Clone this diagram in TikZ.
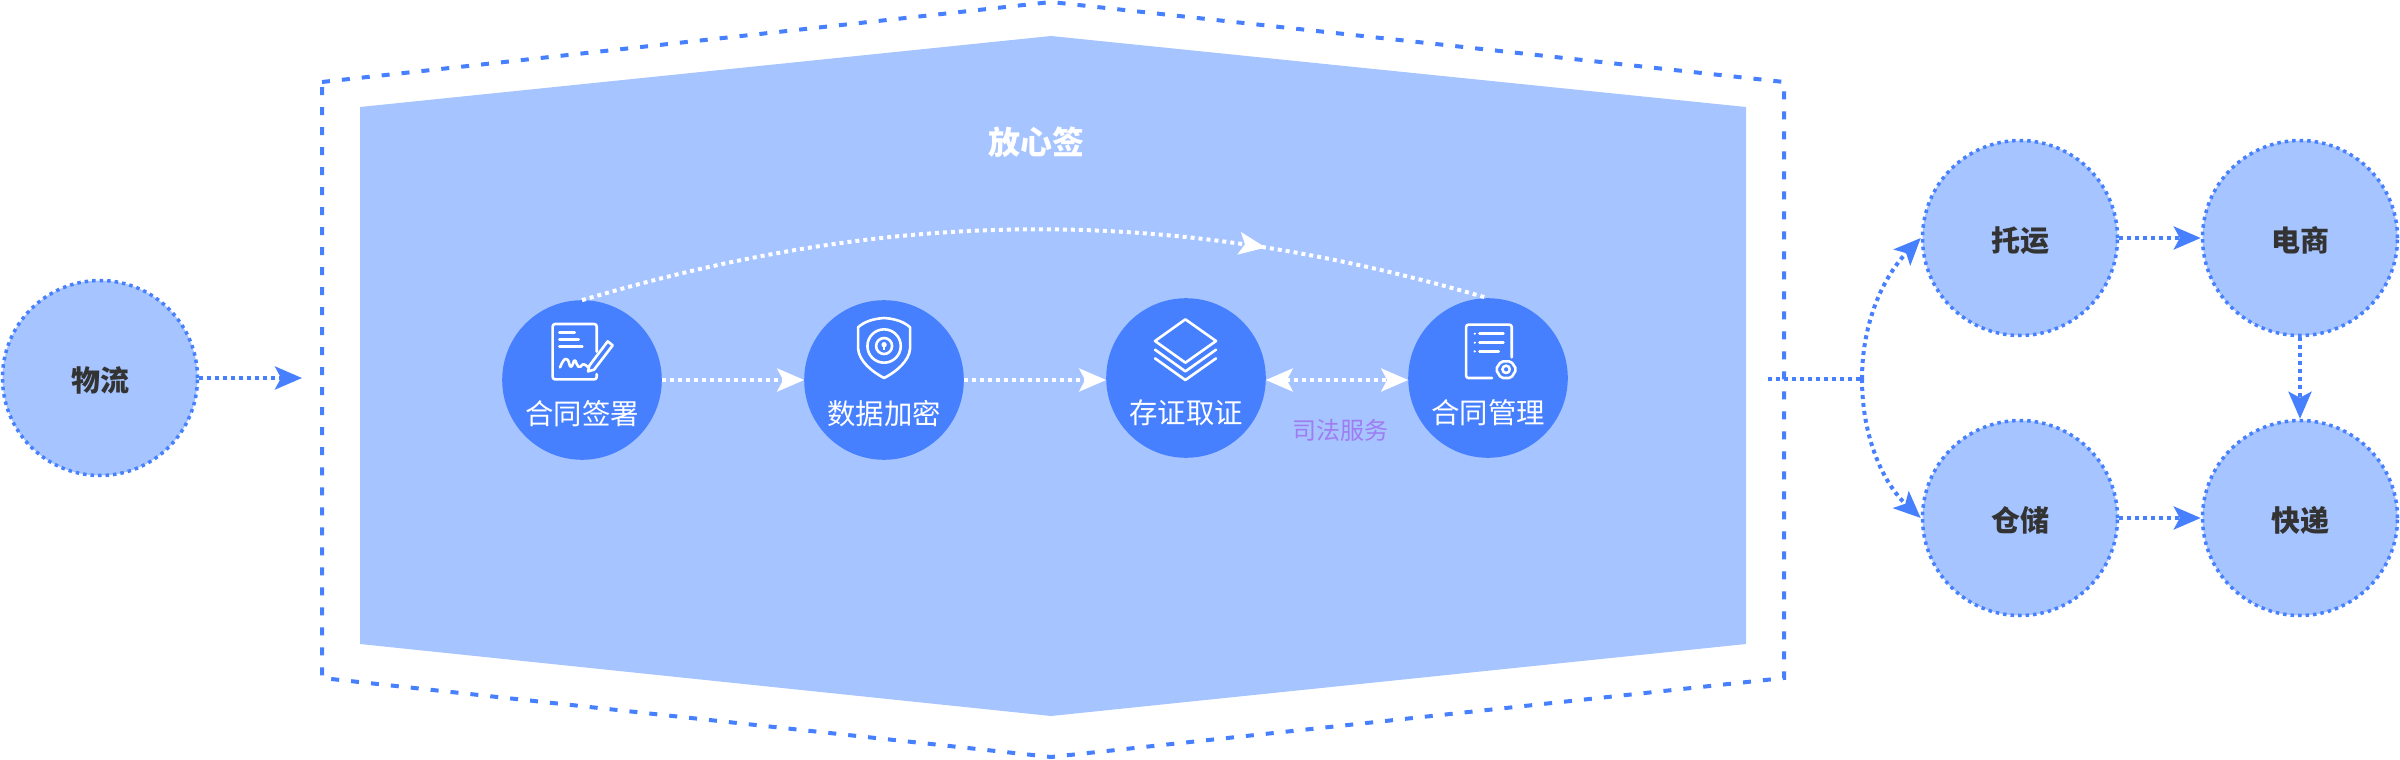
\documentclass[tikz,border=0pt]{standalone}
\usepackage{fontspec}
\setmainfont{Noto Sans CJK SC}
\usetikzlibrary{arrows.meta, decorations.markings}
\definecolor{lightblue}{HTML}{A6C4FF}
\definecolor{mainblue}{HTML}{4780FF}
\definecolor{inkgrey}{HTML}{333333}
\definecolor{lawpurple}{HTML}{A07CF2}
\tikzset{>={Stealth[length=13.5pt,width=11.5pt,inset=3pt]}}
\tikzset{
    dotline/.style={line width=2pt, dash pattern=on 2pt off 2pt},
    bluenode/.style={circle, minimum size=97.5pt, inner sep=0pt, fill=lightblue, draw=mainblue,
        line width=1.75pt, dash pattern=on 1.75pt off 2pt, text=inkgrey, text height=15pt, text depth=1.5pt,
        font=\fontsize{14.5}{14.5}\selectfont\bfseries},
    stepnode/.style={circle, minimum size=79.8pt, inner sep=0pt, outer sep=0pt, fill=mainblue},
    steplabel/.style={text=white, font=\fontsize{14.2}{14.2}\selectfont, inner sep=0pt},
    iconline/.style={white, line width=1.3pt, line cap=round, line join=round}
}

\begin{document}
\begin{tikzpicture}[x=0.5pt, y=-0.5pt]
    \useasboundingbox (0,0) rectangle (2400,760);
    % hull
    \fill [lightblue] (360,107) -- (1051,36) -- (1746,107) -- (1746,644) -- (1051,716) -- (360,644) -- cycle;
    \draw [mainblue, line width=2pt, dash pattern=on 4pt off 6pt] (322,82) -- (1051,2) -- (1784,82) -- (1784,678) -- (1051,757) -- (322,678) -- cycle;
    \node (title) at (1036,142) [text=white, font=\fontsize{16}{16}\selectfont\bfseries] {放心签};

    % outer circles
    \node [bluenode] (wuliu) at (100,378) {物流};
    \node [bluenode] (tuoyun) at (2020,238) {托运};
    \node [bluenode] (dianshang) at (2300,238) {电商};
    \node [bluenode] (cangchu) at (2020,518) {仓储};
    \node [bluenode] (kuaidi) at (2300,518) {快递};
    \coordinate (inlet) at (302,378);
    \coordinate (fanout) at (1768,379);
    \coordinate (split) at (1862,379);

    % steps
    \node [stepnode] (sign) at (582,380) {};
    \node [stepnode] (encrypt) at (884,380) {};
    \node [stepnode] (store) at (1186,378) {};
    \node [stepnode] (manage) at (1488,378) {};
    \node [steplabel] (signtext) at (582,414) {合同签署};
    \node [steplabel] (encrypttext) at (884,414) {数据加密};
    \node [steplabel] (storetext) at (1186,413) {存证取证};
    \node [steplabel] (managetext) at (1488,413) {合同管理};
    \node (law) at (1340,430) [text=lawpurple, inner sep=0pt, font=\fontsize{12}{12}\selectfont] {司法服务};

    % white connectors
    \draw [->, white, dotline] (sign.east) -- (encrypt.west);
    \draw [->, white, dotline] (encrypt.east) -- (encrypt.east -| store.west);
    \draw [<->, white, dotline] ([yshift=-1pt]store.east) -- ([yshift=-1pt]manage.west);
    \draw [white, dotline, postaction={decorate, decoration={markings, mark=at position 0.752 with {\arrow[white, line width=0pt, solid]{>}}}}]
        (sign.north) .. controls (898,206) and (1174,206) .. (manage.north);

    % blue connectors
    \draw [->, mainblue, dotline] (wuliu.east) -- (inlet);
    \draw [->, mainblue, dotline] (tuoyun.east) -- (dianshang.west);
    \draw [->, mainblue, dotline] (cangchu.east) -- (kuaidi.west);
    \draw [->, mainblue, dotline] (dianshang.south) -- (kuaidi.north);
    \draw [mainblue, dotline] (fanout) -- (split);
    \draw [->, mainblue, dotline] (split) .. controls (1862,320) and (1885,275) .. (tuoyun.west);
    \draw [->, mainblue, dotline] (split) .. controls (1862,440) and (1885,485) .. (cangchu.west);

    % icons, in 3x crop units
    \begin{scope}[shift={(460,270)}, x=0.1667pt, y=-0.1667pt, iconline]
        \draw [rounded corners=1.2pt] (410,245) -- (410,162) -- (278,162) -- (278,328) -- (410,328) -- (410,312);
        \draw (298,188) -- (344,188);
        \draw (298,209) -- (356,209);
        \draw (298,230) -- (367,230);
        \draw (300,292) .. controls (312,262) and (322,258) .. (328,282) .. controls (332,300) and (338,285) .. (342,272) .. controls (348,262) and (350,300) .. (362,290) .. controls (368,280) and (372,280) .. (385,292);
        \draw (388,287) -- (443,214) -- (458,226) -- (402,299) -- (384,304) -- cycle;
        % shield
        \draw (1272,144) .. controls (1240,146) and (1212,155) .. (1194,172) -- (1194,235) .. controls (1196,272) and (1235,305) .. (1272,324) .. controls (1309,305) and (1348,272) .. (1350,235) -- (1350,172) .. controls (1332,155) and (1304,146) .. (1272,144) -- cycle;
        \draw (1272,228) circle (50);
        \draw (1272,228) circle (24);
        \fill [white] (1272,224) circle (8);
        \fill [white] (1269,226) rectangle (1275,240);
    \end{scope}
    \begin{scope}[shift={(1060,270)}, x=0.1667pt, y=-0.1667pt, iconline]
        % layers
        \draw (376,148) -- (468,213) -- (376,278) -- (285,213) -- cycle;
        \draw (285,239) -- (376,304) -- (468,239);
        \draw (285,265) -- (376,330) -- (468,265);
        % list with gear
        \draw [rounded corners=1.2pt] (1355,262) -- (1355,164) -- (1218,164) -- (1218,324) -- (1296,324);
        \draw (1258,191) -- (1330,191);
        \draw (1258,218) -- (1330,218);
        \draw (1258,244) -- (1316,244);
        \fill [white] (1244,191) circle (3.5);
        \fill [white] (1244,218) circle (3.5);
        \fill [white] (1244,244) circle (3.5);
        \draw (1338,298) circle (11);
        \draw [rounded corners=1pt] (1323,274) -- (1353,274) -- (1369,298) -- (1353,324) -- (1323,324) -- (1307,298) -- cycle;
    \end{scope}
\end{tikzpicture}
\end{document}
